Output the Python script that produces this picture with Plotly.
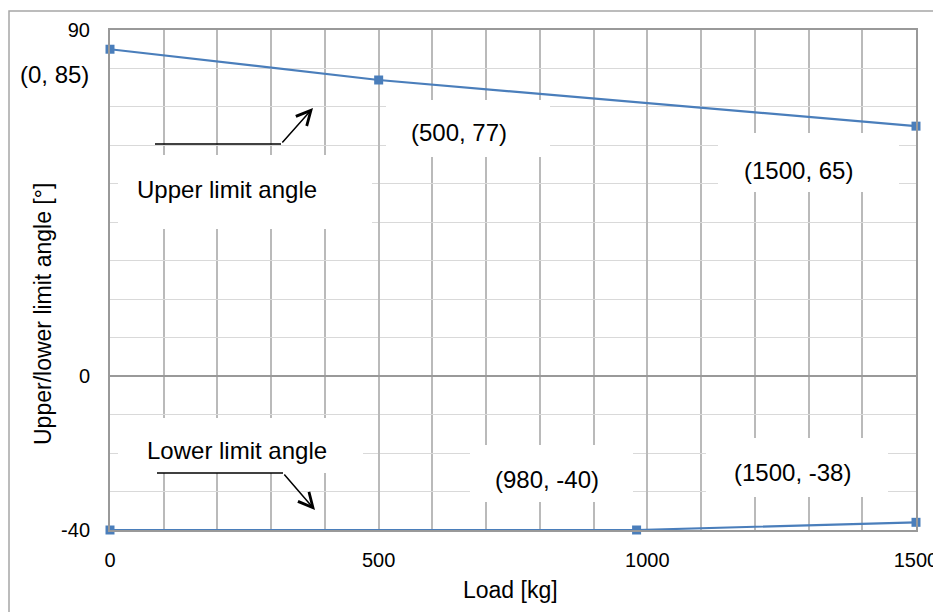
import plotly.graph_objects as go

# ---- data ----
upper_load = [0, 500, 1500]
upper_angle = [85, 77, 65]
lower_load = [0, 980, 1500]
lower_angle = [-40, -40, -38]
x_tick_vals = [0, 500, 1000, 1500]
x_tick_text = ["0", "500", "1000", "1500"]
y_tick_vals = [-40, 0, 90]
y_tick_text = ["-40", "0", "90"]

point_labels = ["(0, 85)", "(500, 77)", "(1500, 65)", "(980, -40)", "(1500, -38)"]
series_labels = ["Upper limit angle", "Lower limit angle"]
x_title = "Load [kg]"
y_title = "Upper/lower limit angle [°]"

# ---- layout geometry (screen pixels; page body has an 8px margin) ----
OFF = 8
W, H = 941 - OFF, 612 - OFF
L, R, T, B = 110, 916, 30, 530   # plot area in screen pixels

def px(x):
    return (x - L) / (R - L)

def py(y):
    return (B - y) / (B - T)

FONT = "Arial, Liberation Sans, sans-serif"
BLUE = "#4A7EBB"

fig = go.Figure()
fig.add_trace(go.Scatter(x=upper_load, y=upper_angle, mode="lines+markers",
                         line=dict(color=BLUE, width=2.2),
                         marker=dict(symbol="square", size=9, color=BLUE),
                         showlegend=False, cliponaxis=False))
fig.add_trace(go.Scatter(x=lower_load, y=lower_angle, mode="lines+markers",
                         line=dict(color=BLUE, width=2.2),
                         marker=dict(symbol="square", size=9, color=BLUE),
                         showlegend=False, cliponaxis=False))

shapes = []
# outer chart border (top/left visible)
shapes.append(dict(type="rect", xref="paper", yref="paper",
                   x0=px(9), x1=px(960), y0=py(640), y1=py(11),
                   line=dict(color="#A6A6A6", width=1.5), layer="below"))

# white label boxes (x0,x1,y0,y1 in screen px)
boxes = [
    (118, 372, 155, 229),   # Upper limit angle
    (386, 550, 100, 157),   # (500, 77)
    (718, 899, 133, 192),   # (1500, 65)
    (118, 363, 418, 473),   # Lower limit angle
    (470, 633, 445, 502),   # (980, -40)
    (706, 888, 438, 497),   # (1500, -38)
]
for x0, x1, y0, y1 in boxes:
    shapes.append(dict(type="rect", xref="paper", yref="paper",
                       x0=px(x0), x1=px(x1), y0=py(y1), y1=py(y0),
                       fillcolor="white", line=dict(width=0), layer="above"))

# horizontal parts of the leader arrows
shapes.append(dict(type="line", xref="paper", yref="paper",
                   x0=px(155), x1=px(281), y0=py(144), y1=py(144),
                   line=dict(color="black", width=1.5), layer="above"))
shapes.append(dict(type="line", xref="paper", yref="paper",
                   x0=px(157), x1=px(283), y0=py(473), y1=py(473),
                   line=dict(color="black", width=1.5), layer="above"))

annotations = []
# text labels: (text, cx, cy)
texts = [
    (series_labels[0], 227, 190),
    (point_labels[1], 459, 133),
    (point_labels[2], 798, 170),
    (series_labels[1], 237, 450),
    (point_labels[3], 547, 479),
    (point_labels[4], 792, 472),
    (point_labels[0], 55, 75),
]
for t, cx, cy in texts:
    annotations.append(dict(text=t, xref="paper", yref="paper",
                            x=px(cx), y=py(cy), xanchor="center", yanchor="middle",
                            showarrow=False, font=dict(family=FONT, size=24, color="black")))

# axis titles
annotations.append(dict(text=x_title, xref="paper", yref="paper",
                        x=px(510), y=py(590), xanchor="center", yanchor="middle",
                        showarrow=False, font=dict(family=FONT, size=23, color="black")))
annotations.append(dict(text=y_title, xref="paper", yref="paper", textangle=-90,
                        x=px(43), y=py(314), xanchor="center", yanchor="middle",
                        showarrow=False, font=dict(family=FONT, size=23, color="black")))

# diagonal arrow parts
annotations.append(dict(text="", xref="paper", yref="paper", axref="pixel", ayref="pixel",
                        x=px(313), y=py(108), ax=281 - 313, ay=144 - 108,
                        showarrow=True, arrowhead=5, arrowsize=1.9, arrowwidth=1.5,
                        arrowcolor="black"))
annotations.append(dict(text="", xref="paper", yref="paper", axref="pixel", ayref="pixel",
                        x=px(315), y=py(510), ax=283 - 315, ay=473 - 510,
                        showarrow=True, arrowhead=5, arrowsize=1.9, arrowwidth=1.5,
                        arrowcolor="black"))

fig.update_layout(
    width=W, height=H,
    margin=dict(l=L - OFF, r=W - (R - OFF), t=T - OFF, b=H - (B - OFF), autoexpand=False),
    paper_bgcolor="white", plot_bgcolor="white",
    font=dict(family=FONT, size=20, color="black"),
    shapes=shapes, annotations=annotations,
    xaxis=dict(range=[0, 1500], tickvals=x_tick_vals, ticktext=x_tick_text,
               showgrid=True, gridcolor="#BABABA", gridwidth=2,
               minor=dict(dtick=100, tick0=0, showgrid=True, gridcolor="#BABABA", gridwidth=2),
               showline=True, mirror=True, linecolor="#999999", linewidth=2,
               zeroline=False, ticks="", ticklabelstandoff=11, automargin=False,
               tickfont=dict(family=FONT, size=20, color="black")),
    yaxis=dict(range=[-40, 90], tickvals=y_tick_vals, ticktext=y_tick_text,
               showgrid=False,
               minor=dict(dtick=10, tick0=0, showgrid=True, gridcolor="#D9D9D9", gridwidth=1),
               showline=True, mirror=True, linecolor="#999999", linewidth=2,
               zeroline=True, zerolinecolor="#999999", zerolinewidth=2,
               ticks="", ticklabelstandoff=14, automargin=False,
               tickfont=dict(family=FONT, size=20, color="black")),
)

fig.write_html("out.html")
